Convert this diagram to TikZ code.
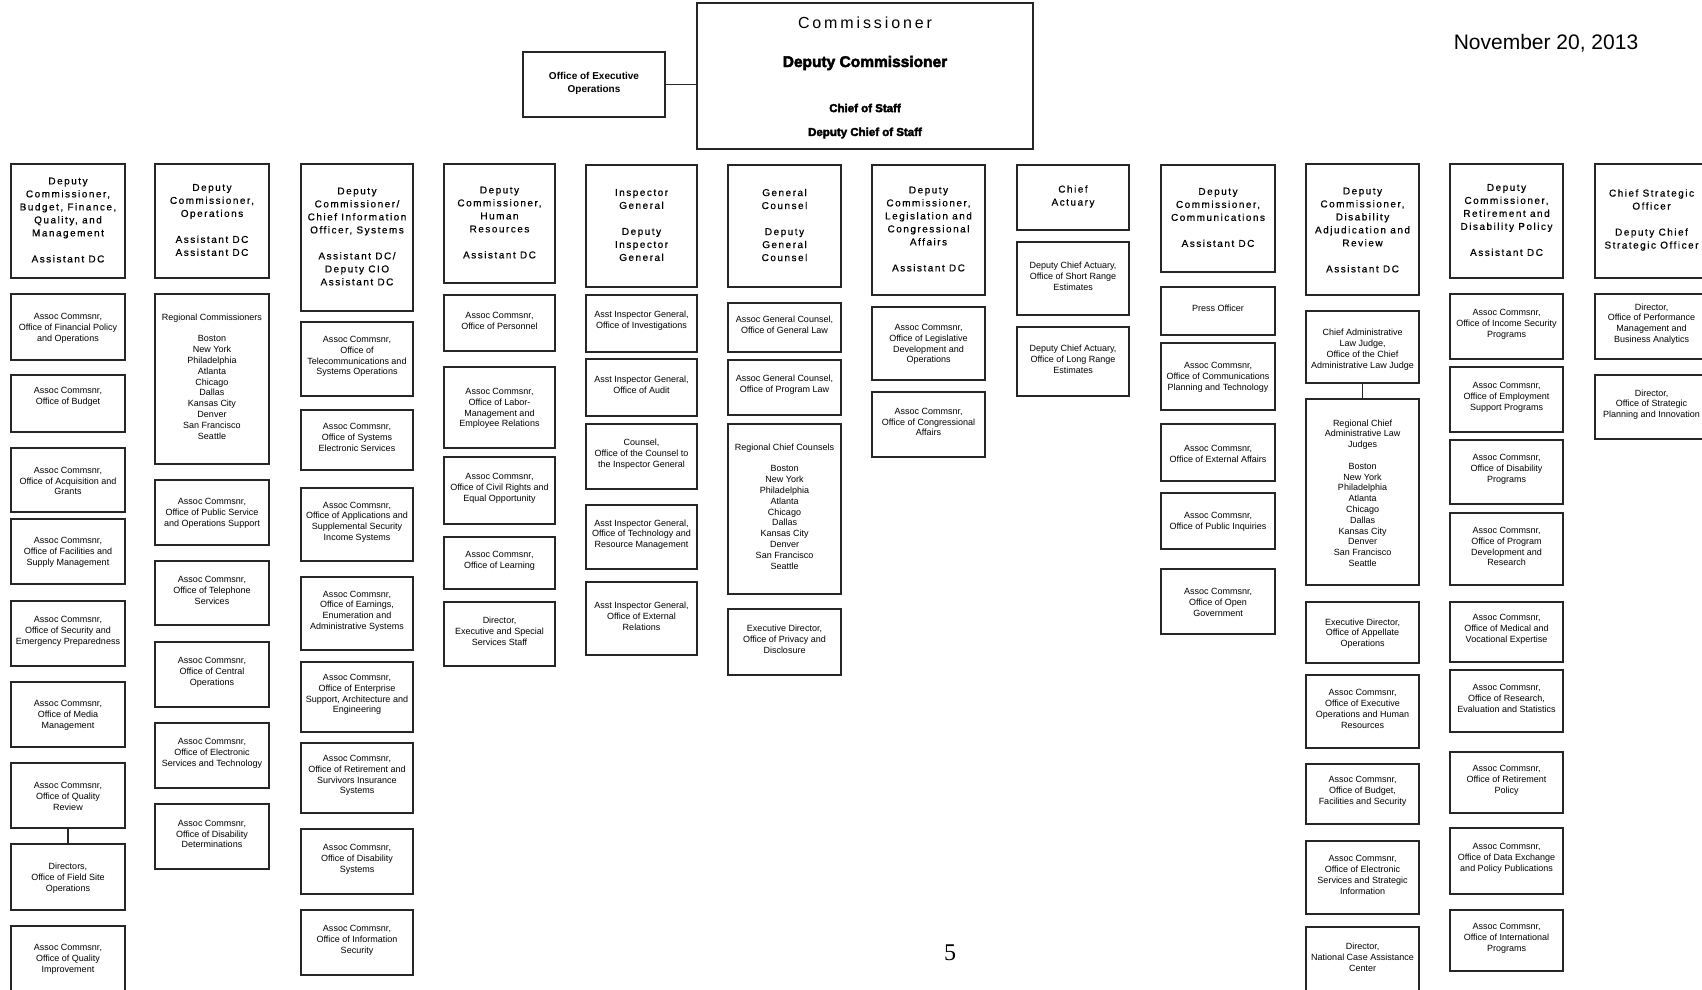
\documentclass[tikz,border=0pt]{standalone}
\usepackage{fontspec}
\setmainfont{Liberation Sans}
\newfontfamily\hdrfont[LetterSpace=15,FakeBold=0.5]{Liberation Sans}
\newfontfamily\comfont[LetterSpace=18]{Liberation Sans}
\newfontfamily\heavyfont[FakeBold=3]{Liberation Sans Bold}
\newfontfamily\pgfont{Liberation Serif}
\newcommand\obox[7]{%
  \pgfmathsetmacro\obw{#5-#3}%
  \pgfmathsetmacro\obh{#6-#4}%
  \node[bx,minimum width=\obw pt,minimum height=\obh pt] (#2) at ({(#3+#5)/2},{(#4+#6)/2}) {};%
  \node[#1] (#2t) at (#2.center) {#7};%
}
\begin{document}
\begin{tikzpicture}[x=1pt,y=-1pt,
  bx/.style={draw=black!85,line width=1.3pt,rectangle,inner sep=0pt,outer sep=0pt},
  body/.style={font=\fontsize{9}{10.8}\selectfont,align=center,inner sep=0pt,yshift=2.5pt},
  low/.style={body,yshift=-3.5pt},
  head/.style={font=\hdrfont\fontsize{10}{13}\selectfont,align=center,inner sep=0pt,yshift=1pt},
  conn/.style={draw=black!85,line width=1.5pt}]
\useasboundingbox (0,0) rectangle (1702,989);
\fill[white] (0,0) rectangle (1702,989);

% top
\node[bx,minimum width=336pt,minimum height=146pt] (com) at (865,76) {};
\node[font=\comfont\fontsize{16}{18}\selectfont,inner sep=0pt] (comt) at (865,23) {Commissioner};
\node[font=\heavyfont\fontsize{15.5}{18}\selectfont,inner sep=0pt] (dct) at (865,63) {Deputy Commissioner};
\node[font=\heavyfont\fontsize{11.5}{14}\selectfont,inner sep=0pt] (cost) at (865,108) {Chief of Staff};
\node[font=\heavyfont\fontsize{11.5}{14}\selectfont,inner sep=0pt] (dcost) at (865,133) {Deputy Chief of Staff};
\obox{body,font=\bfseries\fontsize{10}{12.5}\selectfont,yshift=-1.5pt}{ops}{523}{52}{665}{117}{Office of Executive\\Operations}
\draw[conn] (ops.east) -- (ops.east -| com.west);
\node[font=\fontsize{21}{24}\selectfont,inner sep=0pt] (date) at (1546,43) {November 20, 2013};

% headers
\obox{head}{H1}{11}{164}{125}{278}{Deputy\\Commissioner,\\Budget, Finance,\\Quality, and\\Management\\~\\Assistant DC}
\obox{head}{H2}{155}{164}{269}{278}{Deputy\\Commissioner,\\Operations\\~\\Assistant DC\\Assistant DC}
\obox{head}{H3}{301}{164}{413}{311}{Deputy\\Commissioner/\\Chief Information\\Officer, Systems\\~\\Assistant DC/\\Deputy CIO\\Assistant DC}
\obox{head}{H4}{444}{164}{555}{283}{Deputy\\Commissioner,\\Human\\Resources\\~\\Assistant DC}
\obox{head}{H5}{586}{165}{697}{287}{Inspector\\General\\~\\Deputy\\Inspector\\General}
\obox{head}{H6}{728}{165}{841}{287}{General\\Counsel\\~\\Deputy\\General\\Counsel}
\obox{head}{H7}{872}{165}{985}{295}{Deputy\\Commissioner,\\Legislation and\\Congressional\\Affairs\\~\\Assistant DC}
\obox{head}{H8}{1017}{165}{1129}{230}{Chief\\Actuary}
\obox{head}{H9}{1161}{165}{1275}{272}{Deputy\\Commissioner,\\Communications\\~\\Assistant DC}
\obox{head,yshift=-1.5pt}{H10}{1306}{164}{1419}{295}{Deputy\\Commissioner,\\Disability\\Adjudication and\\Review\\~\\Assistant DC}
\obox{head}{H11}{1450}{164}{1563}{278}{Deputy\\Commissioner,\\Retirement and\\Disability Policy\\~\\Assistant DC}
\obox{head}{H12}{1595}{164}{1708}{278}{Chief Strategic\\Officer\\~\\Deputy Chief\\Strategic Officer}

% column 1
\obox{low}{a1}{11}{294}{125}{360}{Assoc Commsnr,\\Office of Financial Policy\\and Operations}
\obox{body}{a2}{11}{375}{125}{432}{Assoc Commsnr,\\Office of Budget\\~}
\obox{low}{a3}{11}{448}{125}{512}{Assoc Commsnr,\\Office of Acquisition and\\Grants}
\obox{low}{a4}{11}{519}{125}{584}{Assoc Commsnr,\\Office of Facilities and\\Supply Management}
\obox{body}{a5}{11}{601}{125}{666}{Assoc Commsnr,\\Office of Security and\\Emergency Preparedness}
\obox{low}{a6}{11}{682}{125}{747}{Assoc Commsnr,\\Office of Media\\Management}
\obox{low}{a7}{11}{763}{125}{828}{Assoc Commsnr,\\Office of Quality\\Review}
\obox{low}{a8}{11}{844}{125}{910}{Directors,\\Office of Field Site\\Operations}
\obox{body}{a9}{11}{926}{125}{998}{Assoc Commsnr,\\Office of Quality\\Improvement}
\draw[conn] (a7.south) -- (a8.north);

% column 2
\obox{body}{b1}{155}{294}{269}{464}{Regional Commissioners\\~\\Boston\\New York\\Philadelphia\\Atlanta\\Chicago\\Dallas\\Kansas City\\Denver\\San Francisco\\Seattle}
\obox{low}{b2}{155}{480}{269}{545}{Assoc Commsnr,\\Office of Public Service\\and Operations Support}
\obox{body}{b3}{155}{561}{269}{625}{Assoc Commsnr,\\Office of Telephone\\Services}
\obox{body}{b4}{155}{642}{269}{707}{Assoc Commsnr,\\Office of Central\\Operations}
\obox{body}{b5}{155}{723}{269}{788}{Assoc Commsnr,\\Office of Electronic\\Services and Technology}
\obox{body}{b6}{155}{804}{269}{869}{Assoc Commsnr,\\Office of Disability\\Determinations}

% column 3
\obox{body}{c1}{301}{322}{413}{396}{Assoc Commsnr,\\Office of\\Telecommunications and\\Systems Operations}
\obox{body}{c2}{301}{410}{413}{470}{Assoc Commsnr,\\Office of Systems\\Electronic Services}
\obox{body}{c3}{301}{488}{413}{561}{Assoc Commsnr,\\Office of Applications and\\Supplemental Security\\Income Systems}
\obox{body}{c4}{301}{577}{413}{650}{Assoc Commsnr,\\Office of Earnings,\\Enumeration and\\Administrative Systems}
\obox{body}{c5}{301}{662}{413}{732}{Assoc Commsnr,\\Office of Enterprise\\Support, Architecture and\\Engineering}
\obox{body}{c6}{301}{743}{413}{813}{Assoc Commsnr,\\Office of Retirement and\\Survivors Insurance\\Systems}
\obox{body}{c7}{301}{829}{413}{894}{Assoc Commsnr,\\Office of Disability\\Systems}
\obox{body}{c8}{301}{910}{413}{975}{Assoc Commsnr,\\Office of Information\\Security}

% column 4
\obox{body}{d1}{444}{295}{555}{351}{Assoc Commsnr,\\Office of Personnel}
\obox{low}{d2}{444}{367}{555}{448}{Assoc Commsnr,\\Office of Labor-\\Management and\\Employee Relations}
\obox{body}{d3}{444}{457}{555}{524}{Assoc Commsnr,\\Office of Civil Rights and\\Equal Opportunity}
\obox{body}{d4}{444}{537}{555}{589}{Assoc Commsnr,\\Office of Learning}
\obox{body}{d5}{444}{602}{555}{666}{Director,\\Executive and Special\\Services Staff}

% column 5
\obox{body}{e1}{586}{295}{697}{352}{Asst Inspector General,\\Office of Investigations}
\obox{body}{e2}{586}{359}{697}{416}{Asst Inspector General,\\Office of Audit}
\obox{body}{e3}{586}{424}{697}{489}{Counsel,\\Office of the Counsel to\\the Inspector General}
\obox{body}{e4}{586}{505}{697}{569}{Asst Inspector General,\\Office of Technology and\\Resource Management}
\obox{body}{e5}{586}{582}{697}{655}{Asst Inspector General,\\Office of External\\Relations}

% column 6
\obox{body}{f1}{728}{303}{841}{352}{Assoc General Counsel,\\Office of General Law}
\obox{body}{f2}{728}{360}{841}{415}{Assoc General Counsel,\\Office of Program Law}
\obox{body}{f3}{728}{424}{841}{594}{Regional Chief Counsels\\~\\Boston\\New York\\Philadelphia\\Atlanta\\Chicago\\Dallas\\Kansas City\\Denver\\San Francisco\\Seattle}
\obox{body}{f4}{728}{609}{841}{675}{Executive Director,\\Office of Privacy and\\Disclosure}

% column 7
\obox{low}{g1}{872}{307}{985}{380}{Assoc Commsnr,\\Office of Legislative\\Development and\\Operations}
\obox{body}{g2}{872}{392}{985}{457}{Assoc Commsnr,\\Office of Congressional\\Affairs}

% column 8
\obox{body}{h1}{1017}{242}{1129}{315}{Deputy Chief Actuary,\\Office of Short Range\\Estimates}
\obox{body}{h2}{1017}{327}{1129}{396}{Deputy Chief Actuary,\\Office of Long Range\\Estimates}

% column 9
\obox{body}{i1}{1161}{287}{1275}{335}{Press Officer}
\obox{low}{i2}{1161}{343}{1275}{410}{Assoc Commsnr,\\Office of Communications\\Planning and Technology}
\obox{low}{i3}{1161}{424}{1275}{481}{Assoc Commsnr,\\Office of External Affairs}
\obox{low}{i4}{1161}{493}{1275}{549}{Assoc Commsnr,\\Office of Public Inquiries}
\obox{low}{i5}{1161}{569}{1275}{634}{Assoc Commsnr,\\Office of Open\\Government}

% column 10
\obox{low,yshift=-1.5pt}{j1}{1306}{311}{1419}{383}{Chief Administrative\\Law Judge,\\Office of the Chief\\Administrative Law Judge}
\obox{low}{j2}{1306}{399}{1419}{585}{Regional Chief\\Administrative Law\\Judges\\~\\Boston\\New York\\Philadelphia\\Atlanta\\Chicago\\Dallas\\Kansas City\\Denver\\San Francisco\\Seattle}
\obox{low}{j3}{1306}{602}{1419}{663}{Executive Director,\\Office of Appellate\\Operations}
\obox{body}{j4}{1306}{675}{1419}{748}{Assoc Commsnr,\\Office of Executive\\Operations and Human\\Resources}
\obox{body}{j5}{1306}{764}{1419}{824}{Assoc Commsnr,\\Office of Budget,\\Facilities and Security}
\obox{body}{j6}{1306}{841}{1419}{914}{Assoc Commsnr,\\Office of Electronic\\Services and Strategic\\Information}
\obox{body}{j7}{1306}{927}{1419}{993}{Director,\\National Case Assistance\\Center}
\draw[conn] (j1.south) -- (j2.north);

% column 11
\obox{body}{k1}{1450}{294}{1563}{359}{Assoc Commsnr,\\Office of Income Security\\Programs}
\obox{body}{k2}{1450}{367}{1563}{432}{Assoc Commsnr,\\Office of Employment\\Support Programs}
\obox{body}{k3}{1450}{440}{1563}{504}{Assoc Commsnr,\\Office of Disability\\Programs}
\obox{body}{k4}{1450}{513}{1563}{585}{Assoc Commsnr,\\Office of Program\\Development and\\Research}
\obox{body}{k5}{1450}{602}{1563}{662}{Assoc Commsnr,\\Office of Medical and\\Vocational Expertise}
\obox{body}{k6}{1450}{670}{1563}{732}{Assoc Commsnr,\\Office of Research,\\Evaluation and Statistics}
\obox{body}{k7}{1450}{752}{1563}{813}{Assoc Commsnr,\\Office of Retirement\\Policy}
\obox{body}{k8}{1450}{828}{1563}{894}{Assoc Commsnr,\\Office of Data Exchange\\and Policy Publications}
\obox{body}{k9}{1450}{910}{1563}{971}{Assoc Commsnr,\\Office of International\\Programs}

% column 12
\obox{body}{l1}{1595}{294}{1708}{359}{Director,\\Office of Performance\\Management and\\Business Analytics}
\obox{body}{l2}{1595}{375}{1708}{439}{Director,\\Office of Strategic\\Planning and Innovation}

% page number
\node[font=\pgfont\fontsize{24}{26}\selectfont,inner sep=0pt] (pg) at (950,953) {5};
\end{tikzpicture}
\end{document}
